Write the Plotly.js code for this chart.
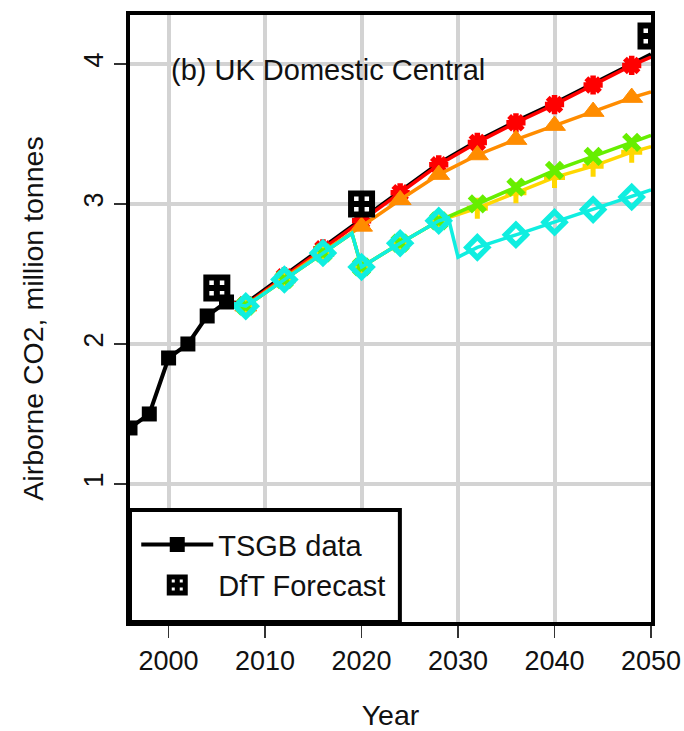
<!DOCTYPE html>
<html><head><meta charset="utf-8">
<script src="https://cdn.plot.ly/plotly-3.0.1.min.js"></script>
<style>html,body{margin:0;padding:0;background:#fff}#chart{width:684px;height:731px}</style>
</head><body><div id="chart"></div>
<script>
// TSGB historical data
const tsgbYears = [1996, 1998, 2000, 2002, 2004, 2006];
const tsgbValues = [1.40, 1.50, 1.90, 2.00, 2.20, 2.30];
// DfT forecast points
const dftYears = [2005, 2020, 2050];
const dftValues = [2.40, 3.00, 4.20];
// Scenario years (smooth scenarios)
const smoothYears = [2006, 2008, 2012, 2016, 2020, 2024, 2028, 2032, 2036, 2040, 2044, 2048, 2050];
const blackValues  = [2.30, 2.29, 2.49, 2.69, 2.89, 3.09, 3.29, 3.45, 3.59, 3.72, 3.86, 4.00, 4.07];
const redValues    = [2.30, 2.28, 2.48, 2.68, 2.88, 3.08, 3.28, 3.44, 3.58, 3.71, 3.85, 3.99, 4.05];
const orangeValues = [2.30, 2.27, 2.47, 2.66, 2.84, 3.03, 3.21, 3.35, 3.46, 3.56, 3.66, 3.76, 3.80];
// Scenarios with a step at 2020
const stepYears    = [2006, 2008, 2012, 2016, 2019, 2020, 2024, 2028, 2032, 2036, 2040, 2044, 2048, 2050];
const greenValues  = [2.30, 2.27, 2.46, 2.65, 2.79, 2.55, 2.72, 2.88, 3.00, 3.12, 3.24, 3.34, 3.44, 3.49];
const yellowValues = [2.30, 2.27, 2.46, 2.65, 2.79, 2.55, 2.72, 2.88, 2.97, 3.08, 3.19, 3.27, 3.37, 3.41];
// Scenario with steps at 2020 and 2030
const cyanYears  = [2006, 2008, 2012, 2016, 2019, 2020, 2024, 2028, 2029, 2030, 2032, 2036, 2040, 2044, 2048, 2050];
const cyanValues = [2.30, 2.27, 2.46, 2.65, 2.79, 2.55, 2.72, 2.88, 2.90, 2.62, 2.69, 2.78, 2.87, 2.96, 3.05, 3.10];

const xTicks = [2000, 2010, 2020, 2030, 2040, 2050];
const yTicks = [1, 2, 3, 4];

function msizes(years, s) {
  return years.map(y => (y >= 2008 && y <= 2048 && (y - 2008) % 4 === 0) ? s : 0);
}
function scen(years, vals, color, symbol, size, lw, mlw) {
  return {
    x: years, y: vals, type: 'scatter', mode: 'lines+markers', showlegend: false,
    line: {color: color, width: lw},
    marker: {symbol: symbol, size: msizes(years, size), color: color, opacity: 1, line: {color: color, width: mlw}},
    cliponaxis: true
  };
}
const traces = [
  {x: smoothYears, y: blackValues, type: 'scatter', mode: 'lines', showlegend: false, line: {color: 'black', width: 4}},
  scen(smoothYears, redValues, '#FF0000', 'asterisk-open', 16, 3.5, 5.5),
  scen(smoothYears, orangeValues, '#FF8C00', 'triangle-up', 19, 3.5, 1),
  scen(stepYears, yellowValues, '#FFD700', 'cross-thin-open', 15, 3.5, 5),
  scen(stepYears, greenValues, '#66EE00', 'x-thin-open', 15, 3.5, 6),
  scen(cyanYears, cyanValues, '#10EEE0', 'diamond-open', 16, 3.5, 5.5),
  {x: tsgbYears, y: tsgbValues, name: 'TSGB data', type: 'scatter', mode: 'lines+markers',
   line: {color: 'black', width: 4}, marker: {symbol: 'square', size: 15, color: 'black', opacity: 1}},
  {x: dftYears, y: dftValues, name: 'DfT Forecast', type: 'scatter', mode: 'markers',
   marker: {symbol: 'square-cross-open', size: 21, color: 'black', opacity: 1, line: {color: 'black', width: 6}}, cliponaxis: true}
];

const fam = 'Liberation Sans, Arial, sans-serif';
const layout = {
  width: 684, height: 731,
  margin: {l: 130, r: 33, t: 15, b: 109},
  paper_bgcolor: 'white', plot_bgcolor: 'white',
  font: {family: fam, size: 27, color: '#111'},
  showlegend: true,
  xaxis: {
    range: [1996, 2050], tickvals: xTicks, ticktext: xTicks.map(String),
    showgrid: true, gridcolor: '#D3D3D3', gridwidth: 4,
    zeroline: false, showline: true, mirror: true, linecolor: 'black', linewidth: 4,
    ticks: 'outside', ticklen: 12, tickwidth: 1.5, tickcolor: '#333',
    tickfont: {family: fam, size: 27, color: '#111'},
    title: {text: 'Year', font: {family: fam, size: 28.5, color: '#111'}, standoff: 36}
  },
  yaxis: {
    range: [0.014, 4.35], tickvals: yTicks, ticktext: yTicks.map(String),
    showgrid: true, gridcolor: '#D3D3D3', gridwidth: 4,
    zeroline: false, showline: true, mirror: true, linecolor: 'black', linewidth: 4,
    ticks: 'outside', ticklen: 12, tickwidth: 1.5, tickcolor: '#333', tickangle: -90,
    tickfont: {family: fam, size: 27, color: '#111'},
    title: {text: 'Airborne CO2, million tonnes', font: {family: fam, size: 28.5, color: '#111'}, standoff: 28}
  },
  legend: {
    x: 0.012, y: 0.018, xanchor: 'left', yanchor: 'bottom',
    bgcolor: 'rgba(0,0,0,0)', borderwidth: 0,
    font: {family: fam, size: 29, color: '#111'},
    itemwidth: 72, tracegroupgap: 0
  },
  shapes: [{
    type: 'rect', xref: 'paper', yref: 'paper', x0: 0, x1: 0.518, y0: 0, y1: 0.1845,
    fillcolor: 'white', line: {color: 'black', width: 4}, layer: 'above'
  }],
  annotations: [{
    x: 2000, y: 3.96, xref: 'x', yref: 'y', xanchor: 'left', yanchor: 'middle',
    text: '(b) UK Domestic Central', showarrow: false,
    font: {family: fam, size: 29, color: '#111'}
  }]
};
Plotly.newPlot('chart', traces, layout, {displayModeBar: false, staticPlot: true});
</script></body></html>
